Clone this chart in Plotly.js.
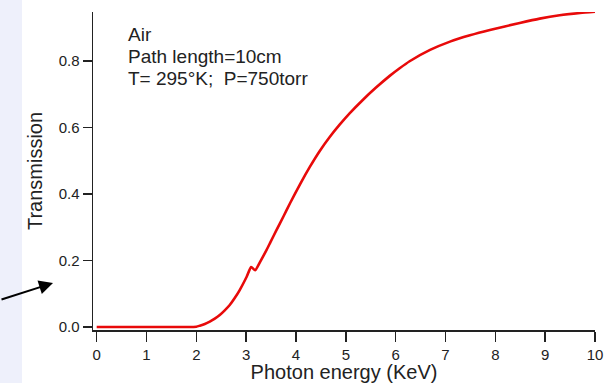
<!DOCTYPE html>
<html>
<head>
<meta charset="utf-8">
<script src="https://cdn.plot.ly/plotly-3.0.1.min.js"></script>
<style>
html,body{margin:0;padding:0;background:#fff;}
#chart{width:606px;height:383px;}
</style>
</head>
<body>
<div id="chart"></div>
<script>
// Photon energy (keV) and air transmission
const energy = [0, 0.5, 1, 1.5, 1.8, 2.0, 2.07, 2.17, 2.27, 2.37, 2.47, 2.57, 2.67, 2.77, 2.87, 3.01, 3.1, 3.18, 3.28, 3.41, 3.48, 3.61, 3.75, 3.88, 4.08, 4.28, 4.48, 4.68, 4.88, 5.08, 5.35, 5.6, 5.88, 6.08, 6.28, 6.69, 7.09, 7.49, 7.89, 8.49, 8.89, 9.29, 9.7, 10];
const transmission = [0, 0, 0, 0, 0, 0.001, 0.004, 0.009, 0.016, 0.025, 0.036, 0.05, 0.066, 0.087, 0.111, 0.151, 0.180, 0.171, 0.196, 0.232, 0.253, 0.292, 0.333, 0.372, 0.429, 0.482, 0.53, 0.572, 0.609, 0.643, 0.684, 0.719, 0.755, 0.778, 0.799, 0.833, 0.858, 0.877, 0.893, 0.914, 0.927, 0.937, 0.944, 0.948];
const yTicks = [0, 0.2, 0.4, 0.6, 0.8];
const xTicks = [0, 1, 2, 3, 4, 5, 6, 7, 8, 9, 10];
const infoLines = ["Air", "Path length=10cm", "T= 295°K;  P=750torr"];

const font = "Arial, 'Liberation Sans', sans-serif";
const ink = "#222";

const trace = {
  x: energy, y: transmission, type: "scatter", mode: "lines",
  line: {color: "rgb(232,10,10)", width: 2.6, shape: "spline", smoothing: 0.6},
  cliponaxis: false, hoverinfo: "skip"
};

const lineY = [34, 56.5, 79];
const annotations = infoLines.map((t, i) => ({
  text: t, xref: "paper", yref: "paper",
  x: (126 - 93) / 502, y: (330 - lineY[i]) / 318,
  xanchor: "left", yanchor: "middle", showarrow: false,
  font: {family: font, size: 19, color: ink}
}));
annotations.push({
  text: "", xref: "paper", yref: "paper",
  x: (53 - 93) / 502, y: (330 - 283) / 318,
  ax: -56, ay: 17, showarrow: true,
  arrowhead: 2, arrowsize: 1.4, arrowwidth: 2, arrowcolor: "#000"
});

const layout = {
  width: 606, height: 383,
  margin: {l: 93, r: 11, t: 12, b: 53, autoexpand: false},
  paper_bgcolor: "#fff", plot_bgcolor: "rgba(0,0,0,0)",
  showlegend: false,
  font: {family: font, color: ink},
  xaxis: {
    range: [-0.074, 10.0], tickvals: xTicks, ticktext: xTicks.map(String),
    showline: true, linecolor: ink, linewidth: 1.5,
    ticks: "outside", ticklen: 10, tickwidth: 1.5, tickcolor: ink,
    showgrid: false, zeroline: false,
    tickfont: {family: font, size: 15, color: ink},
    title: {text: "Photon energy (KeV)", font: {family: font, size: 20, color: ink}, standoff: 2}
  },
  yaxis: {
    range: [-0.009, 0.947], tickvals: yTicks, ticktext: yTicks.map(v => v.toFixed(1)),
    showline: true, linecolor: ink, linewidth: 1.5,
    ticks: "outside", ticklen: 9, tickwidth: 1.5, tickcolor: ink,
    showgrid: false, zeroline: false,
    tickfont: {family: font, size: 15, color: ink},
    title: {text: "Transmission", font: {family: font, size: 20, color: ink}, standoff: 10}
  },
  shapes: [{
    type: "rect", xref: "paper", yref: "paper", layer: "below",
    x0: -93 / 502, x1: (22 - 93) / 502, y0: -53 / 318, y1: 330 / 318,
    fillcolor: "#eef0fb", line: {width: 0}
  }],
  annotations: annotations
};

Plotly.newPlot("chart", [trace], layout, {displayModeBar: false, staticPlot: true});
</script>
</body>
</html>
